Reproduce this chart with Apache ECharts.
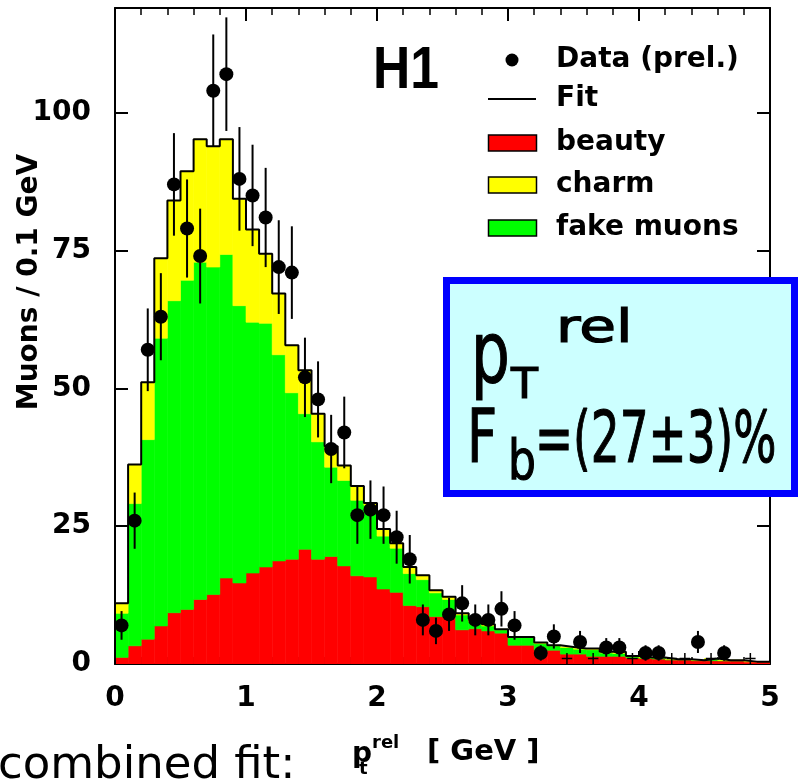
<!DOCTYPE html>
<html><head><meta charset="utf-8">
<script src="https://cdn.jsdelivr.net/npm/echarts@6/dist/echarts.min.js"></script>
<style>html,body{margin:0;padding:0;background:#fff}#main{width:800px;height:779px}</style>
</head><body><div id="main"></div>
<script>
// ---- data (bins of 0.1 GeV) ----
const binEdges = [0.0,0.1,0.2,0.3,0.4,0.5,0.6,0.7,0.8,0.9,1.0,1.1,1.2,1.3,1.4,1.5,1.6,1.7,1.8,1.9,2.0,2.1,2.2,2.3,2.4,2.5,2.6,2.7,2.8,2.9,3.0,3.1,3.2,3.3,3.4,3.5,3.6,3.7,3.8,3.9,4.0,4.1,4.2,4.3,4.4,4.5,4.6,4.7,4.8,4.9,5.0];
const beauty = [1.2,3.3,4.5,6.9,9.3,9.9,11.7,12.6,15.6,14.7,16.5,17.6,18.7,19.0,20.8,19.0,19.5,17.8,16.0,15.8,13.6,13.0,10.6,10.4,8.6,8.6,6.2,6.4,6.0,5.6,3.4,3.4,2.5,2.5,1.8,1.8,1.4,1.4,1.4,1.1,1.0,0.9,0.75,0.75,0.6,0.6,0.55,0.55,0.4,0.4];
const fakeMuons = [8.0,25.8,36.2,52.2,56.6,59.7,61.2,59.4,58.7,50.3,45.5,44.2,37.4,30.2,24.6,21.3,16.2,15.5,13.7,13.0,9.6,8.0,5.8,4.9,4.3,3.1,2.7,1.2,0.9,0.6,1.4,1.4,1.2,0.8,1.2,0.9,1.2,0.6,0.5,0.2,0.1,0.2,0.05,0.05,0.05,0.3,0.1,0.1,0.0,0.0];
const charm = [1.8,7.1,10.4,14.5,18.2,19.8,22.3,21.9,20.9,19.4,16.8,12.6,11.1,8.6,7.9,5.1,3.8,2.7,2.6,0.4,1.3,0.9,1.2,0.8,0.5,0.5,0.3,0.6,0.3,0.1,0.1,0.1,0.2,0.1,0.1,0.1,0.2,0.2,0.3,0.15,0.1,0.1,0.05,0.05,0.05,0.1,0.05,0.05,0.03,0.03];
const dataVal = [7,26,57,63,87,79,74,104,107,88,85,81,72,71,52,48,39,42,27,28,27,23,19,8,6,9,11,8,8,10,7,null,2,5,null,4,null,3,3,null,2,2,null,null,4,null,2,null,null,null];
const dataErr = [2.6,5.1,7.5,7.9,9.3,8.9,8.6,10.2,10.3,9.4,9.2,9.0,8.5,8.4,7.2,6.9,6.2,6.5,5.2,5.3,5.2,4.8,4.4,2.8,2.4,3.0,3.3,2.8,2.8,3.2,2.6,null,1.4,2.2,null,2.0,null,1.7,1.7,null,1.4,1.4,null,null,2.0,null,1.4,null,null,null];
const crossX = [3.45,3.65,3.95,4.25,4.35,4.55,4.85];
const crossVal = [1,1,1,1,1,1,1];
const crossErr = [1,1,1,1,1,1,1];
const xTicks = [0,1,2,3,4,5];
const yTicks = [0,25,50,75,100];

// ---- build ----
const FONT = 'DejaVu Sans';
const nb = beauty.length;
const fakeBase = beauty.slice();
const charmBase = beauty.map((b,i)=>b+fakeMuons[i]);
const fitTotal = beauty.map((b,i)=>b+fakeMuons[i]+charm[i]);
function rectData(vals, base){
  return vals.map((v,i)=>[binEdges[i], binEdges[i+1], base?base[i]:0, (base?base[i]:0)+v]);
}
function rectRender(color){
  return function(params, api){
    const a = api.coord([api.value(0), api.value(3)]);
    const b = api.coord([api.value(1), api.value(2)]);
    const h = b[1]-a[1];
    if (h <= 0.05) return null;
    return {type:'rect', shape:{x:a[0], y:a[1], width:b[0]-a[0], height:h},
      style:{fill:color, stroke:color, lineWidth:0.6}};
  };
}
const centers = dataVal.map((v,i)=>(binEdges[i]+binEdges[i+1])/2);
const pts = [], errs = [];
dataVal.forEach((v,i)=>{ if(v!==null){ pts.push([centers[i], v]); errs.push([centers[i], v-dataErr[i], v+dataErr[i]]); }});
const fitLine = [[binEdges[0],0]];
for (let i=0;i<nb;i++) fitLine.push([binEdges[i], fitTotal[i]]);
fitLine.push([binEdges[nb], fitTotal[nb-1]]);
const crosses = crossX.map((x,i)=>[x, crossVal[i], crossErr[i]]);

const axisLineStyle = {color:'#000', width:2};
function xAx(pos, showLabel){
  return {type:'value', position:pos, min:0, max:5, interval:1,
    axisLine:{show:true, lineStyle:axisLineStyle, onZero:false},
    axisTick:{show:true, inside:true, length:13, lineStyle:{color:'#000', width:2}},
    minorTick:{show:true, splitNumber:5, length:7, lineStyle:{color:'#000', width:1.5}},
    splitLine:{show:false},
    axisLabel:{show:showLabel, color:'#000', fontFamily:FONT, fontWeight:'bold', fontSize:28, margin:21,
      formatter:v=>xTicks.indexOf(v)>=0?String(v):''}};
}
function yAx(pos, showLabel){
  return {type:'value', position:pos, min:0, max:119, interval:25,
    axisLine:{show:true, lineStyle:axisLineStyle, onZero:false},
    axisTick:{show:true, inside:true, length:13, lineStyle:{color:'#000', width:2}},
    splitLine:{show:false},
    axisLabel:{show:showLabel, color:'#000', fontFamily:FONT, fontWeight:'bold', fontSize:28, margin:24, showMaxLabel:false,
      formatter:v=>yTicks.indexOf(v)>=0?String(v):''}};
}

const legendItems = [
  {label:'Data (prel.)', kind:'dot', y:60},
  {label:'Fit', kind:'line', y:99},
  {label:'beauty', kind:'rect', color:'#ff0000', y:143},
  {label:'charm', kind:'rect', color:'#ffff00', y:185},
  {label:'fake muons', kind:'rect', color:'#00ff00', y:228}
];
const graphics = [];
legendItems.forEach(it=>{
  if(it.kind==='dot') graphics.push({type:'circle', shape:{cx:512, cy:it.y, r:6.5}, style:{fill:'#000'}});
  else if(it.kind==='line') graphics.push({type:'line', shape:{x1:488, y1:it.y, x2:536, y2:it.y}, style:{stroke:'#000', lineWidth:2}});
  else graphics.push({type:'rect', shape:{x:488.5, y:it.y-8, width:48, height:16}, style:{fill:it.color, stroke:'#000', lineWidth:1.5}});
  graphics.push({type:'text', x:556, y:it.y, style:{text:it.label, fontFamily:FONT, fontWeight:'bold', fontSize:28, fill:'#000', align:'left', verticalAlign:'middle', textAlign:'left', textVerticalAlign:'middle'}});
});
// H1
graphics.push({type:'text', x:373, y:71, scaleX:0.86, style:{text:'H1', fontFamily:'Liberation Sans', fontWeight:'bold', fontSize:60, fill:'#000', align:'left', verticalAlign:'middle', textAlign:'left', textVerticalAlign:'middle'}});
// y axis title
graphics.push({type:'text', x:30, y:282, rotation:Math.PI/2, style:{text:'Muons / 0.1 GeV', fontFamily:FONT, fontWeight:'bold', fontSize:28, fill:'#000', align:'center', verticalAlign:'middle', textAlign:'center', textVerticalAlign:'middle'}});
// x axis title
graphics.push({type:'text', x:352, y:755, style:{text:'p', fontFamily:FONT, fontWeight:'bold', fontSize:28, fill:'#000', align:'left', verticalAlign:'middle'}});
graphics.push({type:'text', x:359, y:769, style:{text:'t', fontFamily:FONT, fontWeight:'bold', fontSize:18, fill:'#000', align:'left', verticalAlign:'middle'}});
graphics.push({type:'text', x:372, y:743, style:{text:'rel', fontFamily:FONT, fontWeight:'bold', fontSize:18, fill:'#000', align:'left', verticalAlign:'middle'}});
graphics.push({type:'text', x:427, y:752, style:{text:'[ GeV ]', fontFamily:FONT, fontWeight:'bold', fontSize:29, fill:'#000', align:'left', verticalAlign:'middle'}});
// combined fit
graphics.push({type:'text', x:-2, y:766, style:{text:'combined fit:', fontFamily:FONT, fontSize:45, fill:'#000', align:'left', verticalAlign:'middle'}});
// blue box
graphics.push({type:'rect', z:100, shape:{x:446.5, y:280.5, width:348, height:213}, style:{fill:'#ccffff', stroke:'#0000ff', lineWidth:7}});
const boxTxt = (t, x, y, size, sx)=>({type:'text', z:101, x:x, y:y, scaleX:sx, scaleY:1, style:{text:t, fontFamily:FONT, fontSize:size, fill:'#000', stroke:'#000', lineWidth:1.2, align:'left', verticalAlign:'middle'}});
graphics.push(boxTxt('p', 471, 360, 85, 0.72));
graphics.push(boxTxt('T', 511, 387, 42, 1.05));
graphics.push(boxTxt('rel', 556, 330, 46, 1.3));
graphics.push(boxTxt('F', 467, 443, 75, 0.7));
graphics.push(boxTxt('b', 508, 465, 55, 0.8));
graphics.push(boxTxt('=(27\u00b13)%', 535, 444, 71, 0.64));

const option = {
  animation:false,
  backgroundColor:'#fff',
  grid:{left:115, right:30, top:8, bottom:115, containLabel:false},
  xAxis:[xAx('bottom', true), xAx('top', false)],
  yAxis:[yAx('left', true), yAx('right', false)],
  series:[
    {type:'custom', name:'beauty', data:rectData(beauty, null), renderItem:rectRender('#ff0000'), encode:{x:[0,1], y:[2,3]}, z:2, clip:true},
    {type:'custom', name:'fake muons', data:rectData(fakeMuons, fakeBase), renderItem:rectRender('#00ff00'), encode:{x:[0,1], y:[2,3]}, z:2, clip:true},
    {type:'custom', name:'charm', data:rectData(charm, charmBase), renderItem:rectRender('#ffff00'), encode:{x:[0,1], y:[2,3]}, z:2, clip:true},
    {type:'line', name:'Fit', data:fitLine, step:'end', symbol:'none', lineStyle:{color:'#000', width:2}, z:3, clip:true},
    {type:'custom', name:'errors', data:errs, encode:{x:0, y:[1,2]}, z:4, clip:true,
      renderItem:(params, api)=>{
        const a = api.coord([api.value(0), api.value(1)]);
        const b = api.coord([api.value(0), api.value(2)]);
        return {type:'line', shape:{x1:a[0], y1:a[1], x2:b[0], y2:b[1]}, style:{stroke:'#000', lineWidth:2}};
      }},
    {type:'custom', name:'empty', data:crosses, encode:{x:0, y:1}, z:4, clip:true,
      renderItem:(params, api)=>{
        const x = api.value(0), v = api.value(1), e = api.value(2);
        const c = api.coord([x, v]);
        const lo = api.coord([x, v-e]), hi = api.coord([x, v+e]);
        const l = api.coord([x-0.04, v]), r = api.coord([x+0.04, v]);
        return {type:'group', children:[
          {type:'line', shape:{x1:lo[0], y1:lo[1], x2:hi[0], y2:hi[1]}, style:{stroke:'#000', lineWidth:1.5}},
          {type:'line', shape:{x1:l[0], y1:c[1], x2:r[0], y2:c[1]}, style:{stroke:'#000', lineWidth:1.5}}]};
      }},
    {type:'scatter', name:'Data (prel.)', data:pts, symbol:'circle', symbolSize:14, itemStyle:{color:'#000', opacity:1}, z:5}
  ],
  graphic:graphics
};
const chart = echarts.init(document.getElementById('main'));
chart.setOption(option);
</script></body></html>
